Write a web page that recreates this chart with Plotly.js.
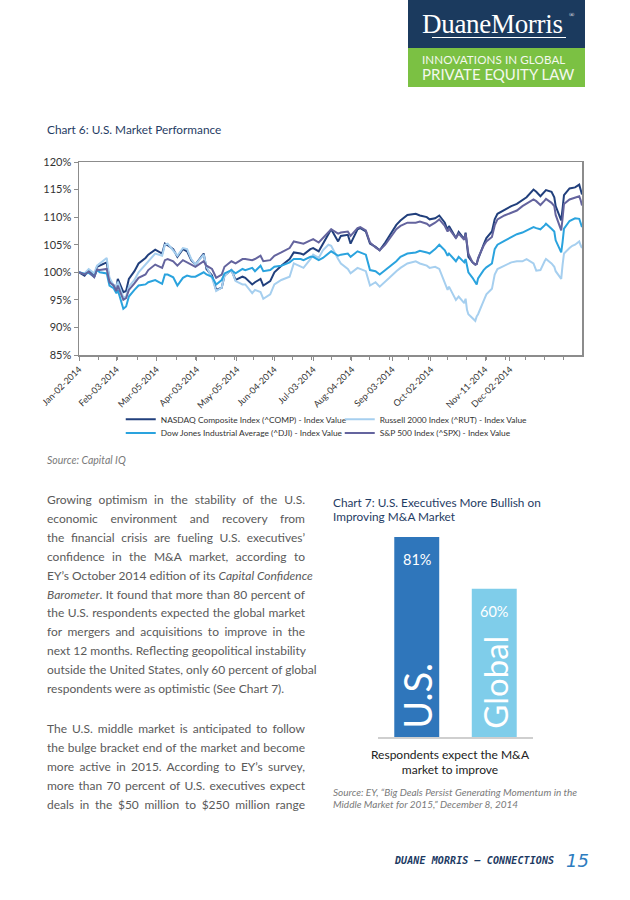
<!DOCTYPE html>
<html>
<head>
<meta charset="utf-8">
<script src="https://cdn.plot.ly/plotly-3.0.1.min.js"></script>
<style>
  html, body { margin:0; padding:0; background:#fff; }
  #page { position:relative; width:630px; height:900px; overflow:hidden; font-family:Lato, "Open Sans", sans-serif; }
  .abs { position:absolute; white-space:nowrap; }
  .navy { background:#1b3a5e; }
  .green { background:#7bc143; }
  .ctitle { font-size:11.8px; color:#1f3c64; line-height:13.5px; }
  .body { font-size:12px; color:#5a5a5a; width:258px; left:47px; text-align:justify; text-align-last:justify; line-height:18.9px; }
  .last { text-align-last:left; }
  .src { font-size:10px; color:#7a7a7a; font-style:italic; line-height:11.5px; }
</style>
</head>
<body>
<div id="page">
  <!-- header logo -->
  <div class="abs navy" style="left:408px; top:0; width:177px; height:48px;"></div>
  <div class="abs green" style="left:408px; top:48px; width:177px; height:39px;"></div>
  <div class="abs" style="left:422px; top:10px; font-family:'Liberation Serif', serif; font-size:27px; color:#fff; line-height:28px; letter-spacing:-0.3px;">DuaneMorris</div>
  <div class="abs" style="left:569px; top:11px; font-family:'Liberation Serif', serif; font-size:7px; color:#fff;">®</div>
  <div class="abs" style="left:432px; top:37px; width:134px; height:1px; background:#fff;"></div>
  <div class="abs" style="left:422px; top:53px; font-size:11.6px; color:#f4f8ee; letter-spacing:0.1px; line-height:13px;">INNOVATIONS IN GLOBAL</div>
  <div class="abs" style="left:422px; top:66px; font-size:15px; color:#f4f8ee; line-height:16px; letter-spacing:0px;">PRIVATE EQUITY LAW</div>

  <!-- chart 6 -->
  <div class="abs ctitle" style="left:47px; top:123px;">Chart 6: U.S. Market Performance</div>
  <div id="chart6" class="abs" style="left:0; top:140px; width:630px; height:320px;"></div>
  <div class="abs src" style="left:47px; top:455px; font-size:10.5px;">Source: Capital IQ</div>

  <!-- body text -->
  <div class="abs body" style="top:491px;">Growing optimism in the stability of the U.S.</div>
  <div class="abs body" style="top:509.9px;">economic environment and recovery from</div>
  <div class="abs body" style="top:528.8px;">the financial crisis are fueling U.S. executives’</div>
  <div class="abs body" style="top:547.7px;">confidence in the M&amp;A market, according to</div>
  <div class="abs body" style="top:566.6px;">EY’s October 2014 edition of its <i>Capital Confidence</i></div>
  <div class="abs body" style="top:585.5px;"><i>Barometer</i>. It found that more than 80 percent of</div>
  <div class="abs body" style="top:604.4px;">the U.S. respondents expected the global market</div>
  <div class="abs body" style="top:623.3px;">for mergers and acquisitions to improve in the</div>
  <div class="abs body" style="top:642.2px;">next 12 months. Reflecting geopolitical instability</div>
  <div class="abs body" style="top:661.1px;">outside the United States, only 60 percent of global</div>
  <div class="abs body last" style="top:680px;">respondents were as optimistic (See Chart 7).</div>

  <div class="abs body" style="top:720px;">The U.S. middle market is anticipated to follow</div>
  <div class="abs body" style="top:739.1px;">the bulge bracket end of the market and become</div>
  <div class="abs body" style="top:758.2px;">more active in 2015. According to EY’s survey,</div>
  <div class="abs body" style="top:777.3px;">more than 70 percent of U.S. executives expect</div>
  <div class="abs body" style="top:796.4px;">deals in the $50 million to $250 million range</div>

  <!-- chart 7 -->
  <div class="abs ctitle" style="left:333px; top:496px;">Chart 7: U.S. Executives More Bullish on<br>Improving M&amp;A Market</div>
  <div id="chart7" class="abs" style="left:320px; top:520px; width:240px; height:240px;"></div>
  <div class="abs" style="left:350px; width:200px; top:748px; text-align:center; font-size:12px; color:#222; line-height:14.5px; white-space:normal;">Respondents expect the M&amp;A<br>market to improve</div>
  <div class="abs src" style="left:333px; top:787px;">Source: EY, “Big Deals Persist Generating Momentum in the<br>Middle Market for 2015,” December 8, 2014</div>

  <!-- footer -->
  <div class="abs" style="left:395px; top:855px; font-family:'DejaVu Sans Mono', monospace; font-style:italic; font-weight:bold; font-size:10px; color:#1c3a63; letter-spacing:0.1px;">DUANE MORRIS — CONNECTIONS</div>
  <div class="abs" style="left:566px; top:850px; font-family:'DejaVu Sans', sans-serif; font-style:italic; font-size:18px; color:#2d7cc0;">15</div>
</div>

<script>
// ---------- Chart 6 data ----------
const dates = ["2014-01-02","2014-01-06","2014-01-09","2014-01-13","2014-01-15","2014-01-17","2014-01-22","2014-01-24","2014-01-27","2014-01-29","2014-01-30",
"2014-02-03","2014-02-05","2014-02-07","2014-02-11","2014-02-14","2014-02-19","2014-02-21","2014-02-26",
"2014-03-03","2014-03-05","2014-03-07","2014-03-11","2014-03-14","2014-03-18","2014-03-21","2014-03-24","2014-03-27",
"2014-04-02","2014-04-04","2014-04-08","2014-04-11","2014-04-15","2014-04-17","2014-04-22","2014-04-25","2014-04-30",
"2014-05-02","2014-05-07","2014-05-09","2014-05-13","2014-05-15","2014-05-20","2014-05-23","2014-05-28",
"2014-06-03","2014-06-06","2014-06-11","2014-06-13","2014-06-18","2014-06-20","2014-06-24","2014-06-27",
"2014-07-01","2014-07-03","2014-07-08","2014-07-10","2014-07-15","2014-07-17","2014-07-22","2014-07-24","2014-07-28","2014-07-31",
"2014-08-04","2014-08-07","2014-08-11","2014-08-14","2014-08-19","2014-08-22","2014-08-27",
"2014-09-02","2014-09-05","2014-09-10","2014-09-12","2014-09-16","2014-09-19","2014-09-23","2014-09-25","2014-09-26",
"2014-10-01","2014-10-03","2014-10-07","2014-10-08","2014-10-09","2014-10-10","2014-10-13","2014-10-15","2014-10-16","2014-10-17","2014-10-21","2014-10-23","2014-10-27","2014-10-29","2014-10-31",
"2014-11-05","2014-11-10","2014-11-14","2014-11-18","2014-11-21","2014-11-26","2014-11-28",
"2014-12-01","2014-12-04","2014-12-05","2014-12-09","2014-12-11","2014-12-12","2014-12-16","2014-12-17","2014-12-18","2014-12-22","2014-12-24","2014-12-26","2014-12-29","2014-12-30","2014-12-31"];

const nasdaq = [100,99.4,100.4,99.2,101.0,101.2,101.8,98.6,97.6,97.4,98.8,
96.4,96.6,98.8,100.2,101.6,102.6,103.2,104.1,
103.4,105.2,104.9,104.2,102.8,104.2,103.8,102.2,101.4,
103.4,100.6,99.4,96.8,97.2,99.4,100.4,98.6,99.2,
99.0,97.8,98.2,98.8,97.6,98.4,100.0,101.2,
102.4,103.6,103.4,103.2,104.2,104.4,103.8,105.2,
106.8,107.8,105.6,106.6,106.8,105.2,107.8,108.0,107.4,105.2,
104.6,104.0,105.4,106.6,108.6,109.4,110.4,
110.6,110.3,110.0,109.6,109.8,110.3,109.0,107.6,108.4,
106.2,107.3,106.0,107.2,104.2,102.8,101.8,101.4,101.5,102.4,105.0,106.2,107.4,109.6,110.6,
111.3,112.0,112.4,113.0,113.6,115.0,114.6,
113.8,114.6,114.9,114.6,113.6,112.0,109.4,111.6,114.0,115.2,115.3,115.4,115.9,115.2,114.1];

const russell = [100,99.8,100.6,99.8,101.2,101.6,102.6,99.0,97.6,97.4,98.3,
95.4,95.6,97.4,98.6,100.0,101.4,102.0,103.4,
103.0,105.0,105.2,104.0,103.0,104.4,104.2,102.4,101.4,
103.2,101.0,99.0,96.6,97.2,99.4,100.4,98.4,97.8,
97.8,96.2,96.8,96.4,95.2,96.0,97.8,98.6,
99.2,101.6,101.0,100.8,102.4,103.2,102.6,104.0,
105.0,104.8,102.4,101.6,100.6,99.8,100.8,100.6,100.2,97.6,
98.2,97.4,98.4,99.0,100.2,100.8,101.6,
102.0,101.6,101.2,100.8,101.0,100.6,97.8,96.8,97.4,
95.0,95.6,94.4,95.2,93.2,92.4,91.6,91.2,92.0,92.4,94.8,96.0,97.0,99.6,100.6,
101.2,101.8,102.0,102.0,102.4,101.6,100.3,
100.4,102.0,102.4,101.6,101.0,100.2,98.8,101.4,103.4,104.4,104.8,105.0,105.6,104.9,104.4];

const dow = [100,99.7,99.9,99.2,100.4,100.0,99.8,97.6,97.1,96.2,96.8,
93.4,93.8,95.6,96.8,97.6,97.8,98.2,98.6,
97.9,99.6,99.6,99.1,97.6,99.0,99.4,99.2,99.2,
100.0,99.6,99.2,97.8,98.6,99.8,100.4,99.8,100.6,
100.4,100.8,100.2,101.2,100.2,100.4,101.0,101.2,
101.8,102.4,102.4,102.2,102.8,102.8,102.2,102.6,
103.4,103.8,103.0,103.2,103.4,102.8,103.8,103.6,103.2,100.4,
100.2,99.6,100.4,101.0,102.0,102.8,103.4,
103.6,103.9,103.6,103.4,104.2,105.0,104.0,103.0,103.4,
102.0,102.8,101.8,102.4,101.0,100.0,99.0,98.0,97.8,98.9,100.4,100.9,101.6,104.2,105.0,
105.7,106.4,106.9,107.2,107.6,108.2,108.0,
107.8,108.5,108.8,107.9,107.4,105.8,103.6,105.5,107.9,109.3,109.6,109.8,109.7,109.0,108.2];

const sp500 = [100,99.6,100.1,99.1,100.5,100.4,100.6,98.2,97.6,96.6,97.6,
95.0,95.3,96.8,98.0,99.0,99.6,100.4,101.4,
100.8,102.2,102.4,102.0,101.2,102.2,101.8,101.4,101.0,
102.0,101.2,100.6,99.0,99.6,101.0,102.0,101.6,102.4,
102.4,102.2,102.4,103.0,102.0,102.2,103.0,103.6,
104.4,105.6,105.4,105.2,105.8,106.0,105.4,106.2,
107.2,107.8,107.0,107.2,107.4,106.6,108.0,108.2,107.6,105.4,
104.5,104.0,105.0,106.0,107.8,108.4,109.0,
109.0,109.2,108.8,108.4,109.0,109.6,108.4,107.4,107.9,
106.2,107.0,105.9,107.0,104.6,103.4,101.8,101.4,101.5,102.6,104.8,105.6,106.4,108.5,109.6,
110.3,110.8,111.2,112.0,112.5,113.2,112.9,
112.2,113.0,113.3,112.6,112.0,110.4,107.6,109.8,112.4,113.2,113.4,113.6,113.8,113.1,112.1];

const seriesNames = ["NASDAQ Composite Index (^COMP) - Index Value","Russell 2000 Index (^RUT) - Index Value",
                     "Dow Jones Industrial Average (^DJI) - Index Value","S&P 500 Index (^SPX) - Index Value"];
const seriesColors = ["#213f7c","#a6cfef","#2aa3de","#64649e"];
const tickDates = ["2014-01-02","2014-01-29","2014-02-27","2014-03-28","2014-04-26","2014-05-23","2014-06-20","2014-07-18","2014-08-16","2014-09-13","2014-10-22","2014-11-09"];
const tickLabels = ["Jan-02-2014","Feb-03-2014","Mar-05-2014","Apr-03-2014","May-05-2014","Jun-04-2014","Jul-03-2014","Aug-04-2014","Sep-03-2014","Oct-02-2014","Nov-11-2014","Dec-02-2014"];
const yTicks = [85,90,95,100,105,110,115,120];

const allSeries = [nasdaq, russell, dow, sp500];
const legendIds = ["legend","legend","legend2","legend2"];
const traces6 = allSeries.map((s,i)=>({
  type:"scatter", mode:"lines", x:dates, y:s, name:seriesNames[i],
  line:{color:seriesColors[i], width:2}, legend:legendIds[i], hoverinfo:"skip"
}));

const legendCommon = {orientation:"h", xref:"paper", yref:"paper", x:0.083, xanchor:"left", yanchor:"middle",
  font:{family:"Lato, sans-serif", size:8.4, color:"#333"}, entrywidth:174, entrywidthmode:"pixels",
  itemwidth:30, bgcolor:"rgba(0,0,0,0)", tracegroupgap:0};

const layout6 = {
  width:630, height:320, margin:{l:79, r:48, t:22, b:100},
  paper_bgcolor:"#fff", plot_bgcolor:"#fff", showlegend:true,
  font:{family:"Lato, sans-serif", color:"#333"},
  xaxis:{type:"date", range:["2014-01-02","2014-12-31"], tickmode:"array", tickvals:tickDates, ticktext:tickLabels,
    tickangle:-45, tickfont:{size:9, color:"#333"}, ticks:"outside", ticklen:4, tickcolor:"#8c8c8c",
    showline:true, linecolor:"#8c8c8c", linewidth:1.5, mirror:true, showgrid:false, zeroline:false, fixedrange:true,
    minor:{ticks:"outside", ticklen:3, tickcolor:"#8c8c8c", dtick:14*86400000, tick0:"2014-01-02", showgrid:false}},
  yaxis:{range:[85,120], tickmode:"array", tickvals:yTicks, ticktext:yTicks.map(v=>v+"%"),
    tickfont:{size:11, color:"#333"}, ticks:"outside", ticklen:4, tickcolor:"#8c8c8c",
    showline:true, linecolor:"#8c8c8c", linewidth:1.5, mirror:true, showgrid:false, zeroline:false, fixedrange:true},
  legend:Object.assign({}, legendCommon, {y:-0.333}),
  legend2:Object.assign({}, legendCommon, {y:-0.404})
};
Plotly.newPlot("chart6", traces6, layout6, {displayModeBar:false, staticPlot:true});

// ---------- Chart 7 data ----------
const regions = ["U.S.","Global"];
const bullishPct = [81, 60];
const barColors = ["#2f76bb","#7fcdea"];
const labelSizes = [38, 33];

const trace7 = {type:"bar", x:regions, y:bullishPct, marker:{color:barColors, line:{width:0}}, hoverinfo:"skip"};
const ann7 = [];
regions.forEach((r,i)=>{
  ann7.push({x:r, y:bullishPct[i], xref:"x", yref:"y", text:bullishPct[i]+"%", showarrow:false,
    yanchor:"top", yshift:-12, font:{family:"Lato, sans-serif", size:14.5, color:"#fff"}});
  ann7.push({x:r, y:0, xref:"x", yref:"y", text:r, showarrow:false, textangle:-90,
    yanchor:"bottom", yshift:6, font:{family:"Lato, sans-serif", size:labelSizes[i], color:"#fff"}});
});
const layout7 = {
  width:240, height:240, margin:{l:57.5, r:26.5, t:17, b:23},
  paper_bgcolor:"rgba(0,0,0,0)", plot_bgcolor:"rgba(0,0,0,0)", showlegend:false, bargap:0.42,
  xaxis:{type:"category", showticklabels:false, ticks:"", showline:true, linecolor:"#cfcfcf", linewidth:2, showgrid:false, zeroline:false, fixedrange:true},
  yaxis:{range:[0,81], visible:false, fixedrange:true},
  annotations:ann7
};
Plotly.newPlot("chart7", [trace7], layout7, {displayModeBar:false, staticPlot:true});
</script>
</body>
</html>
